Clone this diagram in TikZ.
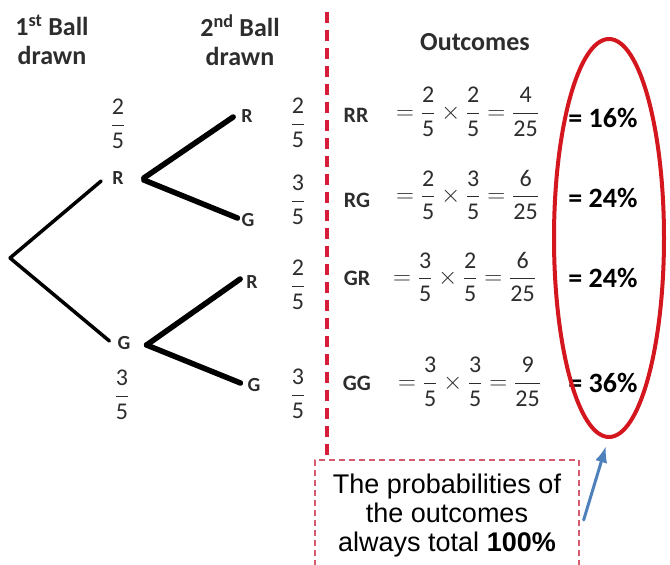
\documentclass[tikz,border=0pt]{standalone}
\usepackage{amsmath}
\usepackage{fontspec}
\setmainfont{Carlito}
\newfontfamily\arialfont{Liberation Sans}
\usetikzlibrary{arrows.meta,shapes.geometric}
\definecolor{divred}{RGB}{214,28,56}
\definecolor{ovalred}{RGB}{212,22,30}
\definecolor{notered}{RGB}{214,90,110}
\definecolor{arrowblue}{RGB}{78,128,188}
\definecolor{ink}{RGB}{45,45,45}
\newcommand\fr[2]{\ensuremath{\dfrac{\text{#1}}{\text{#2}}}}

\begin{document}
\begin{tikzpicture}[x=1pt,y=-1pt,line cap=round,line join=round,>=Latex,
  head/.style={font=\fontsize{26}{29}\selectfont\bfseries,text=ink,align=center,inner sep=0pt},
  ball/.style={font=\fontsize{20}{22}\selectfont\bfseries,text=ink,inner sep=0pt},
  prob/.style={font=\fontsize{24}{26}\selectfont,text=ink,inner sep=0pt},
  outc/.style={font=\fontsize{22}{24}\selectfont\bfseries,text=ink,inner sep=0pt},
  calc/.style={font=\fontsize{24}{26}\selectfont,text=ink,inner sep=0pt,anchor=west},
  pct/.style={font=\fontsize{28}{30}\selectfont\bfseries,text=black,inner sep=0pt},
  branch/.style={line width=3.5pt},
  twig/.style={line width=5.5pt},
  divider/.style={divred,line width=3.2pt,dash pattern=on 11pt off 7pt,line cap=butt},
  notebox/.style={draw=notered,line width=1.3pt,dash pattern=on 6pt off 4pt,line cap=butt,
    font=\arialfont\fontsize{27}{29}\selectfont,align=center,minimum width=264pt,
    minimum height=112pt,inner sep=0pt}]
  \clip (0,0) rectangle (670,565);

  \node[head] (first) at (52,40) {1\textsuperscript{st} Ball\\drawn};
  \node[head] (second) at (240,40) {2\textsuperscript{nd} Ball\\drawn};
  \node[head] (outcomes) at (475,42) {Outcomes};

  \coordinate (root) at (10,258);
  \node[ball] (r1) at (118,178) {R};
  \node[ball] (g1) at (124,343) {G};
  \node[ball] (rr) at (247,116) {R};
  \node[ball] (rg) at (248,220) {G};
  \node[ball] (gr) at (252,282) {R};
  \node[ball] (gg) at (254,385) {G};

  \draw[branch] (root) -- ([shift={(-11,3)}]r1.west);
  \draw[branch] (root) -- ([shift={(-8,-2)}]g1.west);
  \draw[twig] ([shift={(20,0)}]r1.east) -- ([shift={(-8,1)}]rr.west);
  \draw[twig] ([shift={(20,2)}]r1.east) -- ([shift={(-4,-2)}]rg.west);
  \draw[twig] ([shift={(16,2)}]g1.east) -- ([shift={(-6,-3)}]gr.west);
  \draw[twig] ([shift={(16,2)}]g1.east) -- ([shift={(-7,-2)}]gg.west);

  \node[prob] (pr1) at (118,124) {\fr{2}{5}};
  \node[prob] (pg1) at (122,395) {\fr{3}{5}};
  \node[prob] (prr) at (298,123) {\fr{2}{5}};
  \node[prob] (prg) at (298,200) {\fr{3}{5}};
  \node[prob] (pgr) at (298,285) {\fr{2}{5}};
  \node[prob] (pgg) at (298,394) {\fr{3}{5}};

  \coordinate (divtop) at (327,12);
  \coordinate (divbot) at (327,456);
  \draw[divider] (divtop) -- (divbot);

  \node[outc] (lrr) at (356,115) {RR};
  \node[outc] (lrg) at (357,200) {RG};
  \node[outc] (lgr) at (357,278) {GR};
  \node[outc] (lgg) at (357,383) {GG};

  \node[calc] (crr) at (396,112) {$=\fr{2}{5}\times\fr{2}{5}=\fr{4}{25}$};
  \node[calc] (crg) at (396,195) {$=\fr{2}{5}\times\fr{3}{5}=\fr{6}{25}$};
  \node[calc] (cgr) at (393,277) {$=\fr{3}{5}\times\fr{2}{5}=\fr{6}{25}$};
  \node[calc] (cgg) at (398,382) {$=\fr{3}{5}\times\fr{3}{5}=\fr{9}{25}$};

  \node[pct] (qrr) at (603,118) {= 16\%};
  \node[pct] (qrg) at (603,198) {= 24\%};
  \node[pct] (qgr) at (603,278) {= 24\%};
  \node[pct] (qgg) at (603,383) {= 36\%};

  \node[ellipse,draw=ovalred,line width=4pt,minimum width=110pt,minimum height=398pt,
    inner sep=0pt] (oval) at (609,238) {};

  \node[notebox] (note) at (447,516)
    {The probabilities of\\the outcomes\\always total \textbf{100\%}};
  \draw[->,arrowblue,line width=3pt] ([shift={(4,4)}]note.east) -- ([shift={(-3,7)}]oval.south);
\end{tikzpicture}
\end{document}
